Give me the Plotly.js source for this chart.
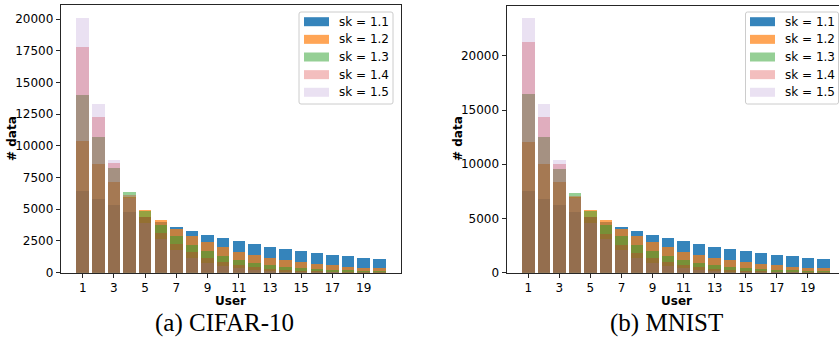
<!DOCTYPE html>
<html>
<head>
<meta charset="utf-8">
<script src="https://cdn.plot.ly/plotly-3.0.1.min.js"></script>
<style>
html, body { margin: 0; padding: 0; overflow: hidden; background: #fff; }
#chart { width: 848px; height: 358px; }
</style>
</head>
<body>
<div id="chart"></div>
<script>
// ---- data ----
const users = [1,2,3,4,5,6,7,8,9,10,11,12,13,14,15,16,17,18,19,20];
const seriesNames = ["sk = 1.1", "sk = 1.2", "sk = 1.3", "sk = 1.4", "sk = 1.5"];
const xTickVals = [1,3,5,7,9,11,13,15,17,19];
const captions = ["(a) CIFAR-10", "(b) MNIST"];
const xTitle = "User";
const yTitle = "# data";

// CIFAR-10
const cifar_sk11 = [6440,5810,5340,4790,4400,4000,3600,3290,2970,2740,2500,2260,2030,1850,1700,1540,1380,1300,1140,1070];
const cifar_sk12 = [10390,8570,7150,5970,4950,4140,3450,2890,2420,2030,1640,1400,1170,990,830,670,590,430,360,360];
const cifar_sk13 = [14020,10700,8260,6370,4870,3750,2900,2180,1710,1320,1000,770,610,440,360,280,200,200,120,120];
const cifar_sk14 = [17800,12280,8650,6130,4380,3130,2270,1640,1170,850,610,450,290,200,170,110,80,60,40,30];
const cifar_sk15 = [20100,13310,8890,5900,3920,2660,1790,1170,770,530,370,210,120,60,40,30,20,15,10,10];

// MNIST
const mnist_sk11 = [7520,6780,6230,5590,5130,4670,4210,3840,3470,3200,2920,2640,2370,2160,1980,1800,1610,1520,1340,1240];
const mnist_sk12 = [12030,10010,8350,6970,5770,4850,4020,3380,2830,2370,1910,1630,1350,1150,970,780,690,510,410,410];
const mnist_sk13 = [16450,12490,9550,7340,5680,4390,3380,2550,2000,1540,1170,890,710,510,410,320,230,230,140,140];
const mnist_sk14 = [21240,14340,9990,7060,5100,3560,2550,1810,1350,990,710,520,340,230,200,130,90,70,50,35];
const mnist_sk15 = [23450,15530,10380,6900,4580,3100,2090,1350,890,620,430,250,160,70,50,35,25,20,12,10];

const cifarSeries = [cifar_sk11, cifar_sk12, cifar_sk13, cifar_sk14, cifar_sk15];
const mnistSeries = [mnist_sk11, mnist_sk12, mnist_sk13, mnist_sk14, mnist_sk15];

// ---- styles ----
const colors = [
  "rgba(31,119,180,0.9)",
  "rgba(255,127,14,0.7)",
  "rgba(44,160,44,0.5)",
  "rgba(214,39,40,0.3)",
  "rgba(148,103,189,0.2)"
];
const W = 848, H = 358;
const FONT = "DejaVu Sans";
const px = v => v / W;
const py = v => 1 - v / H;

const traces = [];
cifarSeries.forEach((vals, i) => traces.push({
  type: "bar", x: users, y: vals, name: seriesNames[i], width: 0.8,
  marker: { color: colors[i], line: { width: 0 } },
  xaxis: "x", yaxis: "y", showlegend: false, hoverinfo: "skip"
}));
mnistSeries.forEach((vals, i) => traces.push({
  type: "bar", x: users, y: vals, name: seriesNames[i], width: 0.8,
  marker: { color: colors[i], line: { width: 0 } },
  xaxis: "x2", yaxis: "y2", showlegend: false, hoverinfo: "skip"
}));

const axisCommon = {
  showline: true, mirror: true, linecolor: "#262626", linewidth: 1.2,
  ticks: "outside", ticklen: 4, tickwidth: 1, tickcolor: "#262626",
  showgrid: false, zeroline: false,
  tickfont: { family: FONT, size: 12, color: "#000" }
};
const titleFont = { family: FONT, size: 12, color: "#000", weight: "bold" };

const shapes = [];
const annotations = [];

function addLegend(boxL, boxR, boxT, boxB, swL, textL) {
  const r = 2;
  const L = px(boxL), R = px(boxR), T = py(boxT), B = py(boxB);
  const rx = r / W, ry = r / H;
  shapes.push({
    type: "path", xref: "paper", yref: "paper",
    path: `M${L+rx},${T} L${R-rx},${T} Q${R},${T} ${R},${T-ry} L${R},${B+ry} Q${R},${B} ${R-rx},${B} L${L+rx},${B} Q${L},${B} ${L},${B+ry} L${L},${T-ry} Q${L},${T} ${L+rx},${T} Z`,
    fillcolor: "rgba(255,255,255,0.8)", line: { color: "#cccccc", width: 1 }, layer: "above"
  });
  seriesNames.forEach((name, i) => {
    const cy = boxT + 9.7 + i * 17.65;
    shapes.push({
      type: "rect", xref: "paper", yref: "paper",
      x0: px(swL), x1: px(swL + 25), y0: py(cy - 4.5), y1: py(cy + 4.5),
      fillcolor: colors[i], line: { width: 0 }, layer: "above"
    });
    annotations.push({
      xref: "paper", yref: "paper", x: px(textL), y: py(cy),
      xanchor: "left", yanchor: "middle", showarrow: false, text: name,
      font: { family: FONT, size: 12, color: "#000" }
    });
  });
}
addLegend(299, 393, 12, 104, 304, 337);
addLegend(745.5, 838.5, 12, 104, 750, 783);

// axis titles
annotations.push({ xref: "paper", yref: "paper", x: px(231), y: py(301), xanchor: "center", yanchor: "middle",
  showarrow: false, borderpad: 0, text: xTitle, font: titleFont });
annotations.push({ xref: "paper", yref: "paper", x: px(676), y: py(301), xanchor: "center", yanchor: "middle",
  showarrow: false, borderpad: 0, text: xTitle, font: titleFont });
annotations.push({ xref: "paper", yref: "paper", x: px(12), y: py(139), xanchor: "center", yanchor: "middle",
  textangle: -90, showarrow: false, borderpad: 0, text: yTitle, font: titleFont });
annotations.push({ xref: "paper", yref: "paper", x: px(458), y: py(139), xanchor: "center", yanchor: "middle",
  textangle: -90, showarrow: false, borderpad: 0, text: yTitle, font: titleFont });

// captions
annotations.push({
  xref: "paper", yref: "paper", x: px(224), y: py(323), xanchor: "center", yanchor: "middle",
  showarrow: false, text: captions[0], font: { family: "Liberation Serif", size: 25, color: "#000" }
});
annotations.push({
  xref: "paper", yref: "paper", x: px(666), y: py(323), xanchor: "center", yanchor: "middle",
  showarrow: false, text: captions[1], font: { family: "Liberation Serif", size: 25, color: "#000" }
});

const layout = {
  width: W, height: H,
  margin: { l: 0, r: 0, t: 0, b: 0 },
  paper_bgcolor: "#fff", plot_bgcolor: "#fff",
  barmode: "overlay", bargap: 0,
  showlegend: false,
  font: { family: FONT, size: 12, color: "#000" },
  xaxis: Object.assign({}, axisCommon, {
    domain: [px(61), px(401)], range: [-0.39, 21.39], anchor: "y",
    tickvals: xTickVals
  }),
  yaxis: Object.assign({}, axisCommon, {
    domain: [py(272.7), py(5)], range: [0, 21105], anchor: "x",
    tick0: 0, dtick: 2500, tickformat: "d"
  }),
  xaxis2: Object.assign({}, axisCommon, {
    domain: [px(506.7), px(845)], range: [-0.39, 21.39], anchor: "y2",
    tickvals: xTickVals
  }),
  yaxis2: Object.assign({}, axisCommon, {
    domain: [py(272.7), py(5.7)], range: [0, 24620], anchor: "x2",
    tick0: 0, dtick: 5000, tickformat: "d"
  }),
  shapes: shapes,
  annotations: annotations
};

Plotly.newPlot("chart", traces, layout, { displayModeBar: false, staticPlot: true });
</script>
</body>
</html>
